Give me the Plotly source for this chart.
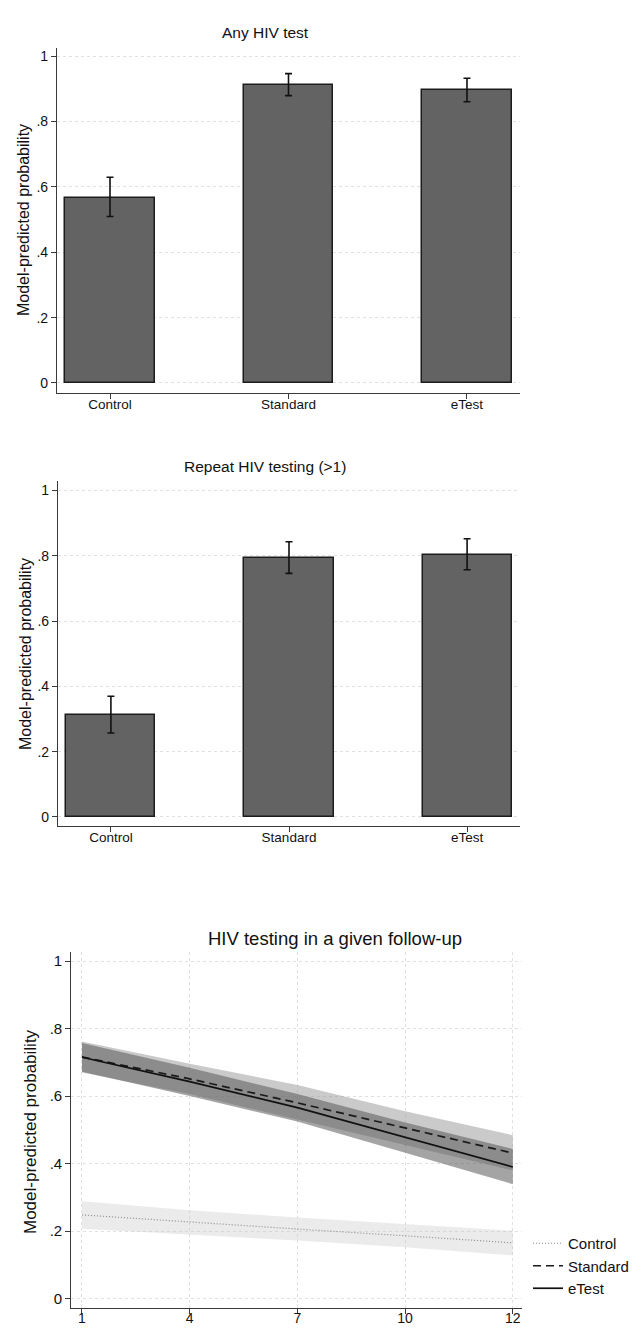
import plotly.graph_objects as go

W, H = 638, 1328
FONT = "Liberation Sans, Arial, sans-serif"

# ---- data ----
arms = ["Control", "Standard", "eTest"]

any_test = [0.567, 0.910, 0.896]
any_lo = [0.509, 0.879, 0.860]
any_hi = [0.629, 0.946, 0.932]

rep_test = [0.312, 0.792, 0.802]
rep_lo = [0.257, 0.746, 0.757]
rep_hi = [0.370, 0.843, 0.852]

followup = ["1", "4", "7", "10", "12"]
ctrl = [0.248, 0.226, 0.206, 0.186, 0.165]
ctrl_lo = [0.207, 0.190, 0.172, 0.152, 0.128]
ctrl_hi = [0.288, 0.262, 0.240, 0.220, 0.201]
std = [0.716, 0.651, 0.580, 0.505, 0.431]
std_lo = [0.670, 0.606, 0.530, 0.455, 0.380]
std_hi = [0.762, 0.696, 0.633, 0.555, 0.484]
etest = [0.715, 0.643, 0.566, 0.477, 0.390]
etest_lo = [0.672, 0.600, 0.525, 0.432, 0.339]
etest_hi = [0.757, 0.684, 0.606, 0.522, 0.443]

prob_ticks = [0, 0.2, 0.4, 0.6, 0.8, 1]
prob_labels = ["0", ".2", ".4", ".6", ".8", "1"]


def px_x(p):
    return p / W


def px_y(p):
    return 1 - p / H


fig = go.Figure()

# ---- bar panels ----
for i, (vals, lo, hi) in enumerate([(any_test, any_lo, any_hi), (rep_test, rep_lo, rep_hi)]):
    ax = "" if i == 0 else "2"
    fig.add_trace(go.Bar(
        x=arms, y=vals, width=0.5,
        marker=dict(color="#636363", line=dict(color="#1c1c1c", width=1.5)),
        error_y=dict(type="data", symmetric=False,
                     array=[h - v for h, v in zip(hi, vals)],
                     arrayminus=[v - l for v, l in zip(vals, lo)],
                     color="#111111", thickness=1.6, width=3.5),
        xaxis="x" + ax, yaxis="y" + ax, showlegend=False, hoverinfo="skip"))


# ---- line panel bands ----
def band(lo, hi, color):
    fig.add_trace(go.Scatter(
        x=followup + followup[::-1], y=hi + lo[::-1], fill="toself",
        fillcolor=color, line=dict(width=0), mode="lines",
        xaxis="x3", yaxis="y3", showlegend=False, hoverinfo="skip"))


band(ctrl_lo, ctrl_hi, "rgba(200,200,200,0.36)")
band(std_lo, std_hi, "rgba(150,150,150,0.50)")
band(etest_lo, etest_hi, "rgba(90,90,90,0.55)")

fig.add_trace(go.Scatter(x=followup, y=ctrl, mode="lines", name="Control",
                         line=dict(color="#8c8c8c", width=1.2, dash="1px,2px"),
                         xaxis="x3", yaxis="y3"))
fig.add_trace(go.Scatter(x=followup, y=std, mode="lines", name="Standard",
                         line=dict(color="#1a1a1a", width=1.7, dash="8px,5px"),
                         xaxis="x3", yaxis="y3"))
fig.add_trace(go.Scatter(x=followup, y=etest, mode="lines", name="eTest",
                         line=dict(color="#111111", width=1.7),
                         xaxis="x3", yaxis="y3"))

axcol = "#3a3a3a"
grid = "#e0e0e0"

common_y = dict(tickvals=prob_ticks, ticktext=prob_labels, ticks="outside",
                ticklen=5, tickcolor=axcol, showline=True, linecolor=axcol,
                linewidth=1.2, showgrid=True, gridcolor=grid, griddash="3px,3px",
                gridwidth=1, zeroline=False, fixedrange=True)

common_x = dict(ticks="outside", ticklen=5, tickcolor=axcol, showline=True,
                linecolor=axcol, linewidth=1.2, zeroline=False, type="category")

fig.update_layout(
    width=W, height=H,
    margin=dict(l=0, r=0, t=0, b=0),
    paper_bgcolor="white", plot_bgcolor="white",
    font=dict(family=FONT, color="#111111", size=13),
    bargap=0,
    xaxis=dict(domain=[px_x(49), px_x(512)], range=[-0.297, 2.297],
               showgrid=False, anchor="y", tickfont=dict(size=13.5),
               ticklabelstandoff=-6, **common_x),
    yaxis=dict(domain=[px_y(385), px_y(40)], range=[-0.0306, 1.0245],
               anchor="x", tickfont=dict(size=14), **common_y),
    xaxis2=dict(domain=[px_x(50), px_x(512)], range=[-0.297, 2.297],
                showgrid=False, anchor="y2", tickfont=dict(size=13.5),
                ticklabelstandoff=-6, **common_x),
    yaxis2=dict(domain=[px_y(818), px_y(473)], range=[-0.0276, 1.029],
                anchor="x2", tickfont=dict(size=14), **common_y),
    xaxis3=dict(domain=[px_x(63.3), px_x(514)], range=[-0.099, 4.085],
                showgrid=True, gridcolor=grid, griddash="3px,3px",
                anchor="y3", tickfont=dict(size=14), ticklabelstandoff=-8,
                **common_x),
    yaxis3=dict(domain=[px_y(1300), px_y(944)], range=[-0.028, 1.027],
                anchor="x3", tickfont=dict(size=15), **common_y),
    legend=dict(x=px_x(520), y=px_y(1219), xanchor="left", yanchor="top",
                font=dict(size=15), bgcolor="rgba(0,0,0,0)",
                tracegroupgap=0, itemwidth=30),
    showlegend=True,
)

annos = [
    dict(text="Any HIV test", x=px_x(257), y=px_y(24), size=15.5, angle=0),
    dict(text="Repeat HIV testing (>1)", x=px_x(257), y=px_y(458), size=15.5, angle=0),
    dict(text="HIV testing in a given follow-up", x=px_x(327), y=px_y(930), size=18.5, angle=0),
    dict(text="Model-predicted probability", x=px_x(16), y=px_y(212), size=16, angle=-90),
    dict(text="Model-predicted probability", x=px_x(17), y=px_y(646), size=16, angle=-90),
    dict(text="Model-predicted probability", x=px_x(22), y=px_y(1124), size=17, angle=-90),
]
for a in annos:
    fig.add_annotation(text=a["text"], x=a["x"], y=a["y"], xref="paper", yref="paper",
                       xanchor="center", yanchor="middle", showarrow=False,
                       textangle=a["angle"], font=dict(size=a["size"], family=FONT, color="#111111"))

fig.write_html("out.html")
